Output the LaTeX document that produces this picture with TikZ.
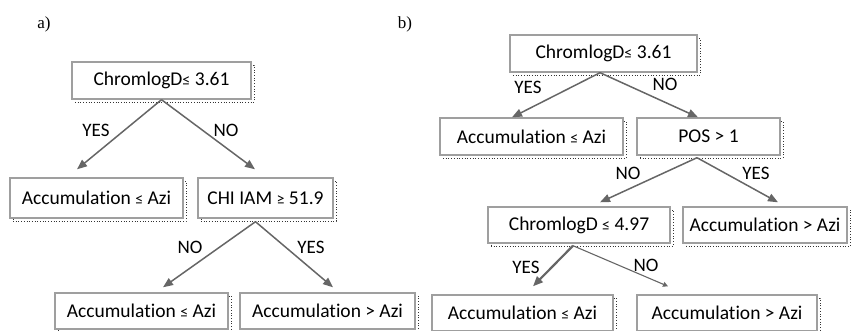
\documentclass[tikz,border=0pt]{standalone}
\usepackage{fontspec}
\setmainfont{Carlito}[Ligatures={NoCommon}]
\newfontfamily\serifnum{Liberation Serif}
\usetikzlibrary{arrows.meta,shadows}
\newcommand{\myle}{{\fontsize{16}{16}\selectfont ≤}}
\newcommand{\myge}{{\fontsize{16}{16}\selectfont ≥}}
\begin{document}
\begin{tikzpicture}[x=1pt,y=-1pt,
  box/.style={draw=gray!75,line width=1.4pt,fill=white,inner sep=0pt,
    font=\fontsize{19.5}{21}\selectfont,text=black,
    drop shadow={fill=none,draw=black!80,dotted,line width=0.7pt,opacity=1,shadow xshift=3pt,shadow yshift=-3pt}},
  lbl/.style={font=\fontsize{19}{20}\selectfont,text=black,inner sep=0pt},
  edge/.style={draw=black!60,line width=1.5pt,-{Triangle[length=10pt,width=8pt]}},
  panel/.style={font=\serifnum\fontsize{17}{17}\selectfont,inner sep=0pt}]
\useasboundingbox (0,0) rectangle (854,331);
% panel labels
\node[panel] (pa) at (44,24) {a)};
\node[panel] (pb) at (405,24) {b)};
% ---- panel a ----
\node[box,minimum width=179pt,minimum height=37pt] (a1) at (161.5,80.5) {ChromlogD\myle\ 3.61};
\node[box,minimum width=173pt,minimum height=40pt] (a2) at (96.5,198) {Accumulation \myle\ Azi};
\node[box,minimum width=135pt,minimum height=40pt] (a3) at (265.5,198) {CHI IAM \myge\ 51.9};
\node[box,minimum width=173pt,minimum height=36pt] (a4) at (141.5,311) {Accumulation \myle\ Azi};
\node[box,minimum width=175pt,minimum height=36pt] (a5) at (327.5,311) {Accumulation {>} Azi};
\draw[edge] (a1.south) -- ([xshift=-19.5pt,yshift=8pt]a2.north);
\draw[edge] (a1.south) -- ([xshift=-10.5pt,yshift=8pt]a3.north);
\draw[edge] ([xshift=-10pt,yshift=-3pt]a3.south) -- ([xshift=21.5pt,yshift=5pt]a4.north);
\draw[edge] ([xshift=-10pt,yshift=-3pt]a3.south) -- ([xshift=5.5pt,yshift=5pt]a5.north);
\node[lbl] (la1) at (96,130) {YES};
\node[lbl] (la2) at (226,130) {NO};
\node[lbl] (la3) at (190,247) {NO};
\node[lbl] (la4) at (311,247) {YES};
% ---- panel b ----
\node[box,minimum width=187pt,minimum height=37pt] (b1) at (603.5,53.5) {ChromlogD\myle\ 3.61};
\node[box,minimum width=183pt,minimum height=37pt] (b2) at (531.5,136.5) {Accumulation \myle\ Azi};
\node[box,minimum width=143pt,minimum height=37pt] (b3) at (708.5,136.5) {POS {>} 1};
\node[box,minimum width=182pt,minimum height=36pt] (b4) at (579,225) {ChromlogD \myle\ 4.97};
\node[box,minimum width=164pt,minimum height=36pt] (b5) at (765,225) {Accumulation {>} Azi};
\node[box,minimum width=181pt,minimum height=36pt] (b6) at (522.5,313) {Accumulation \myle\ Azi};
\node[box,minimum width=180pt,minimum height=36pt] (b7) at (727,313) {Accumulation {>} Azi};
\draw[edge] ([xshift=-3.5pt]b1.south) -- ([xshift=-19.5pt]b2.north);
\draw[edge] ([xshift=-3.5pt]b1.south) -- ([xshift=-10.5pt]b3.north);
\draw[edge] ([xshift=-11.5pt,yshift=-2pt]b3.south) -- ([xshift=21pt,yshift=4pt]b4.north);
\draw[edge] ([xshift=-11.5pt,yshift=-2pt]b3.south) -- ([xshift=13pt,yshift=4pt]b5.north);
\draw[edge,line width=2.2pt] ([xshift=-6pt,yshift=-2pt]b4.south) -- ([xshift=10.5pt,yshift=8pt]b6.north);
\draw[edge,line width=1.1pt,-{Triangle[length=5pt,width=5pt]}] ([xshift=-6pt,yshift=-2pt]b4.south) -- ([xshift=-59pt,yshift=8pt]b7.north);
\node[lbl] (lb1) at (528,87) {YES};
\node[lbl] (lb2) at (665,84) {NO};
\node[lbl] (lb3) at (628,173) {NO};
\node[lbl] (lb4) at (756,173) {YES};
\node[lbl] (lb5) at (526,267) {YES};
\node[lbl] (lb6) at (646,265) {NO};
\end{tikzpicture}
\end{document}
